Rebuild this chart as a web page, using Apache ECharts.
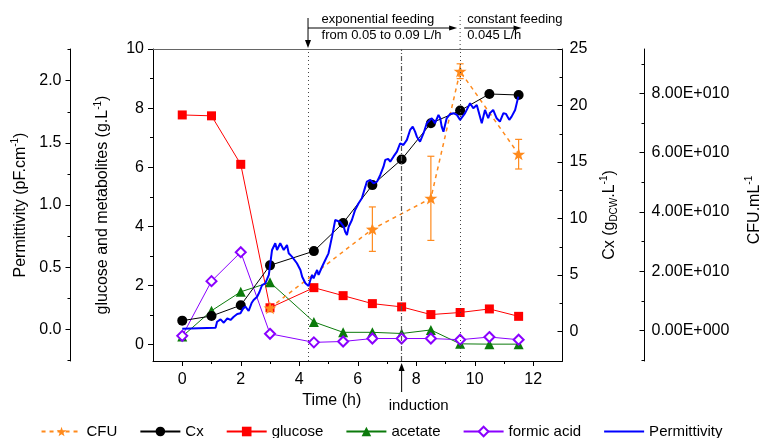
<!DOCTYPE html>
<html>
<head>
<meta charset="utf-8">
<script src="https://cdn.jsdelivr.net/npm/echarts@6/dist/echarts.min.js"></script>
<style>
  html, body { margin: 0; padding: 0; background: #fff; }
  #main { width: 763px; height: 438px; }
</style>
</head>
<body>
<div id="main"></div>
<script>
// sampling times (h)
const sampleTime = [0, 1, 2, 3, 4.5, 5.5, 6.5, 7.5, 8.5, 9.5, 10.5, 11.5];
// g/L
const glucose = [7.77, 7.74, 6.10, 1.25, 1.93, 1.66, 1.39, 1.28, 1.02, 1.09, 1.21, 0.96];
const acetate = [0.28, 1.15, 1.79, 2.11, 0.77, 0.42, 0.42, 0.38, 0.50, 0.03, 0.02, 0.02];
const formicAcid = [0.30, 2.15, 3.13, 0.37, 0.08, 0.11, 0.21, 0.21, 0.21, 0.17, 0.26, 0.17];
// Cx (gDCW/L)
const cx = [0.97, 1.38, 2.33, 5.86, 7.12, 9.61, 12.96, 15.23, 18.43, 19.55, 21.02, 20.93];
// CFU/mL with error
const cfuTime = [3, 6.5, 8.5, 9.5, 11.5];
const cfu = [0.76e10, 3.42e10, 4.46e10, 8.75e10, 5.95e10];
const cfuErr = [0, 0.75e10, 1.42e10, 0.25e10, 0.5e10];
// online permittivity (pF/cm), [time, value]
const permittivity = [
  [0, 0.006], [1.14, 0.014], [1.19, 0.062], [1.31, 0.081], [1.42, 0.054], [1.54, 0.089],
  [1.65, 0.076], [1.76, 0.102], [1.88, 0.124], [1.99, 0.13], [2.09, 0.172], [2.16, 0.183],
  [2.27, 0.148], [2.37, 0.212], [2.44, 0.237], [2.56, 0.263], [2.64, 0.301], [2.73, 0.357],
  [2.84, 0.371], [2.96, 0.438], [3.07, 0.639], [3.18, 0.693], [3.24, 0.639], [3.35, 0.693],
  [3.47, 0.639], [3.58, 0.679], [3.64, 0.612], [3.75, 0.585], [3.92, 0.532], [4.04, 0.478],
  [4.10, 0.424], [4.21, 0.371], [4.32, 0.349], [4.38, 0.397], [4.44, 0.438], [4.49, 0.411],
  [4.61, 0.478], [4.66, 0.438], [4.78, 0.504], [4.89, 0.558], [4.95, 0.545], [5.00, 0.612],
  [5.12, 0.746], [5.23, 0.88], [5.29, 0.894], [5.40, 0.864], [5.52, 0.826], [5.57, 0.786],
  [5.63, 0.759], [5.69, 0.826], [5.80, 0.88], [5.91, 0.961], [6.03, 1.014], [6.14, 1.055],
  [6.26, 1.148], [6.31, 1.188], [6.43, 1.202], [6.54, 1.175], [6.66, 1.188], [6.77, 1.242],
  [6.88, 1.309], [6.94, 1.363], [7.04, 1.371], [7.11, 1.349], [7.22, 1.389], [7.34, 1.43],
  [7.45, 1.497], [7.51, 1.51], [7.56, 1.483], [7.68, 1.524], [7.79, 1.604], [7.88, 1.631],
  [7.96, 1.59], [8.02, 1.55], [8.13, 1.51], [8.25, 1.578], [8.36, 1.658], [8.42, 1.671],
  [8.53, 1.698], [8.64, 1.658], [8.76, 1.725], [8.82, 1.698], [8.87, 1.631], [8.93, 1.59],
  [9.04, 1.698], [9.16, 1.733], [9.27, 1.739], [9.39, 1.725], [9.50, 1.685], [9.56, 1.671],
  [9.67, 1.739], [9.84, 1.819], [9.95, 1.779], [10.07, 1.805], [10.24, 1.658], [10.35, 1.765],
  [10.46, 1.698], [10.52, 1.739], [10.63, 1.765], [10.75, 1.698], [10.86, 1.671], [10.98, 1.739],
  [11.07, 1.733], [11.18, 1.685], [11.26, 1.711], [11.38, 1.765], [11.49, 1.872]
];

// ticks
const timeTicks = [0, 2, 4, 6, 8, 10, 12];
const timeMinor = [1, 3, 5, 7, 9, 11];
const glucoseTicks = [0, 2, 4, 6, 8, 10];
const glucoseMinor = [1, 3, 5, 7, 9];
const cxTicks = [0, 5, 10, 15, 20, 25];
const cxMinor = [2.5, 7.5, 12.5, 17.5, 22.5];
const permTicks = [0, 0.5, 1, 1.5, 2];
const permMinor = [-0.25, 0.25, 0.75, 1.25, 1.75, 2.25];
const cfuTicks = [0, 2e10, 4e10, 6e10, 8e10];
const cfuMinor = [-1e10, 1e10, 3e10, 5e10, 7e10, 9e10];

// events (h)
const feedingStart = 4.3;
const feedingSwitch = 9.5;
const feedingEnd = 11.6;
const inductionTime = 7.5;

const FONT = '"Liberation Sans", Arial, Helvetica, sans-serif';
const STAR = 'path://M50 0L61.76 33.82L97.55 34.55L69.02 56.18L79.39 90.45L50 70L20.61 90.45L30.98 56.18L2.45 34.55L38.24 33.82Z';

function sci(v) {
  if (v === 0) return '0.00E+000';
  let e = Math.floor(Math.log10(Math.abs(v)));
  let m = v / Math.pow(10, e);
  return m.toFixed(2) + 'E+' + String(e).padStart(3, '0');
}
function pairs(xs, ys) {
  return xs.map((x, i) => [x, ys[i]]);
}

const nameRich = {
  n: { fontSize: 16, lineHeight: 20, fontFamily: FONT, color: '#000' },
  s: { fontSize: 10, lineHeight: 12, verticalAlign: 'top', fontFamily: FONT, color: '#000' },
  d: { fontSize: 10, lineHeight: 12, verticalAlign: 'bottom', fontFamily: FONT, color: '#000' }
};

// main y axis with labels
function valueAxis(o) {
  return {
    type: 'value',
    position: o.position,
    offset: o.offset,
    min: o.min, max: o.max,
    name: o.name,
    nameLocation: 'middle',
    nameGap: o.nameGap,
    nameTextStyle: { rich: nameRich, padding: o.namePad || 0 },
    axisLine: { show: true, onZero: false, lineStyle: { color: '#000', width: 1 } },
    axisTick: { show: true, inside: o.inside, length: 5, customValues: o.ticks, lineStyle: { color: '#000' } },
    axisLabel: {
      customValues: o.ticks, fontSize: 16, fontFamily: FONT, color: '#000',
      margin: o.margin, formatter: o.formatter
    },
    splitLine: { show: false }
  };
}
// overlay axis that only draws the short minor ticks
function minorAxis(o, minors) {
  return {
    type: 'value',
    position: o.position,
    offset: o.offset,
    min: o.min, max: o.max,
    axisLine: { show: false, onZero: false },
    axisTick: { show: true, inside: o.inside, length: 3, customValues: minors, lineStyle: { color: '#000' } },
    axisLabel: { show: false },
    splitLine: { show: false }
  };
}

const glucoseAxis = {
  position: 'left', offset: 0, min: -0.55, max: 10, inside: false, margin: 9,
  ticks: glucoseTicks, nameGap: 40,
  name: '{n|glucose and metabolites (g.L}{s|-1}{n|)}'
};
const cxAxis = {
  position: 'right', offset: 0, min: -2.6, max: 25, inside: true, margin: 7,
  ticks: cxTicks, nameGap: 37, namePad: [0, 20, 0, 0],
  name: '{n|Cx (g}{d|DCW}{n|.L}{s|-1}{n|)}'
};
const permAxis = {
  position: 'left', offset: 82.5, min: -0.254, max: 2.255, inside: false, margin: 9,
  ticks: permTicks, nameGap: 32, formatter: v => v.toFixed(1),
  name: '{n|Permittivity (pF.cm}{s|-1}{n|)}'
};
const cfuAxis = {
  position: 'right', offset: 82, min: -1.03e10, max: 9.5e10, inside: true, margin: 7,
  ticks: cfuTicks, nameGap: 100, namePad: [0, 10, 0, 0], formatter: sci,
  name: '{n|CFU.mL}{s|-1}'
};

let chart = echarts.init(document.getElementById('main'));

let option = {
  animation: false,
  textStyle: { fontFamily: FONT },
  grid: { left: 153, right: 200.5, top: 49, bottom: 77, outerBoundsMode: 'none' },
  legend: {
    left: 'center',
    top: 419,
    itemWidth: 40,
    itemHeight: 12,
    itemGap: 22,
    textStyle: { fontSize: 15, color: '#000', fontFamily: FONT },
    data: ['CFU', 'Cx', 'glucose', 'acetate', 'formic acid',
      { name: 'Permittivity', itemStyle: { opacity: 0 } }]
  },
  xAxis: [
    {
      type: 'value', position: 'bottom', min: -1, max: 13,
      name: 'Time (h)', nameLocation: 'middle', nameGap: 30,
      nameTextStyle: { fontSize: 16, color: '#000', fontFamily: FONT, padding: [0, 52, 0, 0] },
      axisLine: { onZero: false, lineStyle: { color: '#000', width: 1 } },
      axisTick: { length: 5, customValues: timeTicks, lineStyle: { color: '#000' } },
      axisLabel: { customValues: timeTicks, fontSize: 16, color: '#000', margin: 11 },
      splitLine: { show: false }
    },
    {
      type: 'value', position: 'bottom', min: -1, max: 13,
      axisLine: { show: false, onZero: false },
      axisTick: { length: 3, customValues: timeMinor, lineStyle: { color: '#000' } },
      axisLabel: { show: false },
      splitLine: { show: false }
    },
    {
      type: 'value', position: 'top', min: -1, max: 13,
      axisLine: { onZero: false, lineStyle: { color: '#666', width: 1 } },
      axisTick: { show: false },
      axisLabel: { show: false },
      splitLine: { show: false }
    }
  ],
  yAxis: [
    valueAxis(glucoseAxis), minorAxis(glucoseAxis, glucoseMinor),
    valueAxis(cxAxis), minorAxis(cxAxis, cxMinor),
    valueAxis(permAxis), minorAxis(permAxis, permMinor),
    valueAxis(cfuAxis), minorAxis(cfuAxis, cfuMinor)
  ],
  series: [
    {
      name: 'CFU', type: 'line', xAxisIndex: 0, yAxisIndex: 6,
      data: pairs(cfuTime, cfu),
      symbol: STAR, symbolSize: 13, symbolKeepAspect: true,
      lineStyle: { color: '#FF8A1C', width: 1.5, type: [4, 4] },
      itemStyle: { color: '#FF8A1C' },
      z: 3
    },
    {
      name: 'CFU err', type: 'custom', xAxisIndex: 0, yAxisIndex: 6,
      data: cfuTime.map((t, i) => [t, cfu[i] - cfuErr[i], cfu[i] + cfuErr[i]]),
      encode: { x: 0, y: [1, 2] },
      renderItem: function (params, api) {
        if (api.value(2) === api.value(1)) return null;
        let lo = api.coord([api.value(0), api.value(1)]);
        let hi = api.coord([api.value(0), api.value(2)]);
        let w = 3.5;
        let st = { stroke: '#FF8A1C', lineWidth: 1.2 };
        return {
          type: 'group',
          children: [
            { type: 'line', shape: { x1: lo[0], y1: lo[1], x2: hi[0], y2: hi[1] }, style: st },
            { type: 'line', shape: { x1: lo[0] - w, y1: lo[1], x2: lo[0] + w, y2: lo[1] }, style: st },
            { type: 'line', shape: { x1: hi[0] - w, y1: hi[1], x2: hi[0] + w, y2: hi[1] }, style: st }
          ]
        };
      },
      z: 3
    },
    {
      name: 'Cx', type: 'line', xAxisIndex: 0, yAxisIndex: 2,
      data: pairs(sampleTime, cx),
      symbol: 'circle', symbolSize: 10,
      lineStyle: { color: '#000', width: 1 },
      itemStyle: { color: '#000' },
      z: 4
    },
    {
      name: 'glucose', type: 'line', xAxisIndex: 0, yAxisIndex: 0,
      data: pairs(sampleTime, glucose),
      symbol: 'rect', symbolSize: 9,
      lineStyle: { color: '#FF0000', width: 1 },
      itemStyle: { color: '#FF0000' },
      z: 2
    },
    {
      name: 'acetate', type: 'line', xAxisIndex: 0, yAxisIndex: 0,
      data: pairs(sampleTime, acetate),
      symbol: 'triangle', symbolSize: 10,
      lineStyle: { color: '#0B7A0B', width: 1 },
      itemStyle: { color: '#0B7A0B' },
      z: 2
    },
    {
      name: 'formic acid', type: 'line', xAxisIndex: 0, yAxisIndex: 0,
      data: pairs(sampleTime, formicAcid),
      symbol: 'emptyDiamond', symbolSize: 10,
      lineStyle: { color: '#8A00FF', width: 1 },
      itemStyle: { color: '#8A00FF', borderWidth: 2 },
      z: 2
    },
    {
      name: 'Permittivity', type: 'line', xAxisIndex: 0, yAxisIndex: 4,
      data: permittivity,
      showSymbol: false, symbol: 'none',
      lineStyle: { color: '#0000FF', width: 2 },
      itemStyle: { color: '#0000FF' },
      z: 5,
      markLine: {
        silent: true, symbol: 'none', label: { show: false },
        data: [
          { xAxis: feedingStart, lineStyle: { type: [1, 3], color: '#444', width: 1 } },
          { xAxis: inductionTime, lineStyle: { type: [5, 2, 1, 2], color: '#555', width: 1.2 } },
          { xAxis: feedingSwitch, lineStyle: { type: [1, 3], color: '#444', width: 1 } }
        ]
      }
    }
  ]
};

chart.setOption(option);

// annotations placed from the x axis scale
let px = t => chart.convertToPixel({ xAxisIndex: 0 }, t);
let xa = px(feedingStart), xb = px(feedingSwitch), xc = px(feedingEnd), xi = px(inductionTime);
let ink = { stroke: '#000', lineWidth: 1 };
let txt = (x, y, s) => ({
  type: 'text', x: x, y: y,
  style: { text: s, fontSize: 13, fontFamily: FONT, fill: '#000', align: 'left', verticalAlign: 'middle' }
});
chart.setOption({
  graphic: [
    { type: 'line', shape: { x1: xa, y1: 18, x2: xa, y2: 42 }, style: ink },
    { type: 'polygon', shape: { points: [[xa - 3, 40], [xa + 3, 40], [xa, 48]] }, style: { fill: '#000' } },
    { type: 'line', shape: { x1: xa, y1: 28, x2: xb - 8, y2: 28 }, style: ink },
    { type: 'polygon', shape: { points: [[xb - 11, 25.5], [xb - 11, 30.5], [xb - 3, 28]] }, style: { fill: '#000' } },
    { type: 'line', shape: { x1: xb, y1: 16, x2: xb, y2: 49 }, style: { stroke: '#444', lineWidth: 1, lineDash: [1, 3] } },
    { type: 'line', shape: { x1: xb + 4, y1: 28, x2: xc - 6, y2: 28 }, style: ink },
    { type: 'polygon', shape: { points: [[xc - 8, 25.5], [xc - 8, 30.5], [xc, 28]] }, style: { fill: '#000' } },
    { type: 'line', shape: { x1: xi, y1: 392, x2: xi, y2: 368 }, style: ink },
    { type: 'polygon', shape: { points: [[xi - 3, 371], [xi + 3, 371], [xi, 363]] }, style: { fill: '#000' } },
    txt(xa + 13.5, 19, 'exponential feeding'),
    txt(xa + 13.5, 35, 'from 0.05 to 0.09 L/h'),
    txt(xb + 7, 19, 'constant feeding'),
    txt(xb + 7, 35, '0.045 L/h'),
    {
      type: 'text', x: xi - 13, y: 406,
      style: { text: 'induction', fontSize: 15, fontFamily: FONT, fill: '#000', align: 'left', verticalAlign: 'middle' }
    }
  ]
});
</script>
</body>
</html>
